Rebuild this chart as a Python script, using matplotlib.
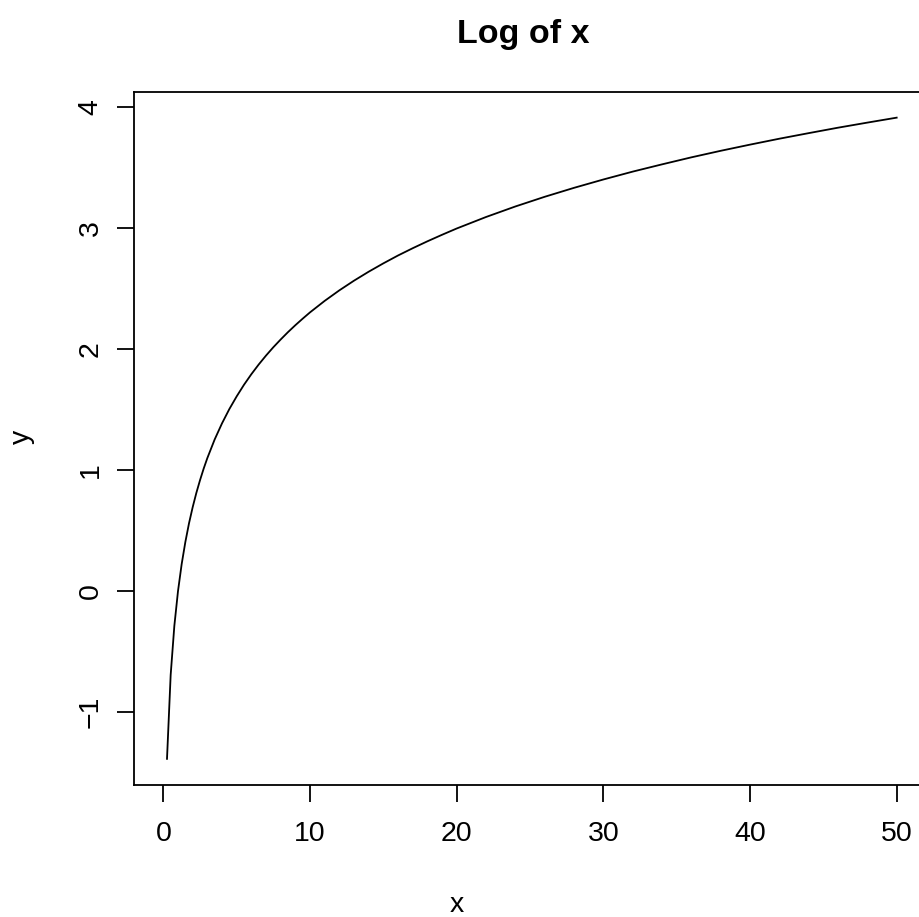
import matplotlib
matplotlib.use("Agg")
import matplotlib.pyplot as plt

# Sampled curve y = log(x)
x_vals = [0.25, 0.5, 0.75, 1.0, 1.25, 1.5, 1.75, 2.0, 2.25, 2.5, 2.75, 3.0,
          3.5, 4.0, 4.5, 5.0, 5.5, 6.0, 6.5, 7.0, 7.5, 8.0, 8.5, 9.0, 9.5, 10.0,
          11.0, 12.0, 13.0, 14.0, 15.0, 16.0, 17.0, 18.0, 19.0, 20.0,
          22.0, 24.0, 26.0, 28.0, 30.0, 32.0, 34.0, 36.0, 38.0, 40.0,
          42.0, 44.0, 46.0, 48.0, 50.0]
y_vals = [-1.386, -0.693, -0.288, 0.000, 0.223, 0.405, 0.560, 0.693, 0.811,
          0.916, 1.012, 1.099, 1.253, 1.386, 1.504, 1.609, 1.705, 1.792, 1.872,
          1.946, 2.015, 2.079, 2.140, 2.197, 2.251, 2.303, 2.398, 2.485, 2.565,
          2.639, 2.708, 2.773, 2.833, 2.890, 2.944, 2.996, 3.091, 3.178, 3.258,
          3.332, 3.401, 3.466, 3.526, 3.584, 3.638, 3.689, 3.738, 3.784, 3.829,
          3.871, 3.912]
x_ticks = [0, 10, 20, 30, 40, 50]
y_ticks = [-1, 0, 1, 2, 3, 4]
y_tick_labels = ["\u22121", "0", "1", "2", "3", "4"]

plt.rcParams["font.family"] = ["Liberation Sans", "DejaVu Sans"]

W, H = 919, 917
fig = plt.figure(figsize=(W / 100, H / 100), dpi=100)
left, right, top, bottom = 134, 926, 92, 784.5
ax = fig.add_axes([left / W, 1 - bottom / H, (right - left) / W, (bottom - top) / H])

ax.plot(x_vals, y_vals, color="black", linewidth=1.3)

xr = max(x_vals) - 0.0
ax.set_xlim(0.0 - 0.04 * xr, max(x_vals) + 0.04 * xr)
yr = max(y_vals) - min(y_vals)
ax.set_ylim(min(y_vals) - 0.04 * yr, max(y_vals) + 0.04 * yr)

ax.set_xticks(x_ticks)
ax.set_xticklabels([str(t) for t in x_ticks])
ax.set_yticks(y_ticks)
ax.set_yticklabels(y_tick_labels, rotation=90, va="center")

for s in ax.spines.values():
    s.set_linewidth(1.3)
ax.tick_params(direction="out", length=12, width=1.3, labelsize=20.5, pad=10)
ax.tick_params(axis="x", pad=14)

fig.text(0.5 * (left + 912) / W, 1 - 35 / H, "Log of x", ha="center", va="center",
         fontsize=24.5, fontweight="bold")
fig.text((left + 780) / 2 / W, 1 - 905 / H, "x", ha="center", va="center", fontsize=20.5)
fig.text(22 / W, 1 - 437 / H, "y", ha="center", va="center", fontsize=20.5, rotation=90)

fig.savefig("out.png", dpi=100)
